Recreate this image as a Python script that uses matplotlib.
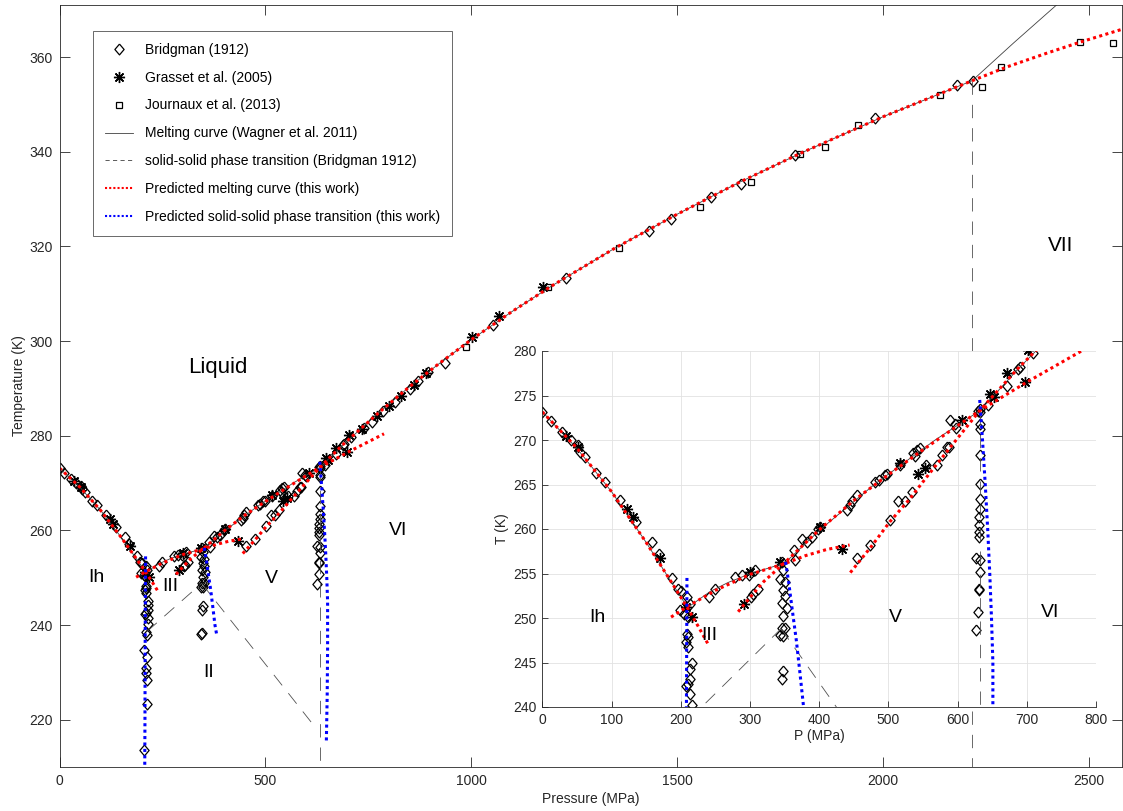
import numpy as np
import matplotlib.pyplot as plt
from matplotlib.lines import Line2D

plt.rcParams['font.family'] = ['Liberation Sans', 'DejaVu Sans']

bridg_P = [0, 12, 28, 41, 52, 55, 62, 78, 90, 112, 136, 158, 169, 187, 196, 201, 199, 205,
           209, 213, 211, 209, 211, 208, 211, 216, 214, 214, 211, 208, 214, 216,
           211, 212, 206, 212, 209, 210, 212, 212, 206,
           241, 250, 278, 288, 298, 307,
           302, 305, 312,
           346, 348, 344, 351, 348, 351, 346, 353, 348, 346, 351, 344, 348,
           348, 346, 345, 343,
           363, 365, 375, 382, 389, 399, 401, 440, 445, 447, 454, 481, 486, 495, 498,
           517, 536, 541, 546, 538, 589, 596, 598,
           454, 474, 502, 514, 524, 534, 555, 570, 577, 584, 587,
           630, 632, 644, 671, 688, 690, 709,
           632, 632, 632, 632, 632, 632, 632, 631, 631, 631, 631, 626, 632, 632, 631,
           631, 630, 626,
           740, 760, 785, 815, 850, 870, 895, 935, 1052, 1230, 1431, 1484, 1582, 1655,
           1786, 1980, 2180, 2218]
bridg_T = [273.2, 272.1, 270.9, 270.0, 269.4, 268.7, 268.1, 266.3, 265.3, 263.3, 260.8,
           258.5, 257.2, 254.5, 253.3, 253.0, 250.9, 250.5,
           252.4, 251.6, 250.1, 248.2, 247.9, 247.3, 246.7, 245.0, 244.3, 243.2, 242.6,
           242.4, 241.5, 240.2,
           238.5, 237.9, 234.8, 233.3, 230.9, 229.9, 228.4, 223.3, 213.5,
           252.4, 253.3, 254.6, 254.8, 254.8, 255.4,
           252.4, 252.7, 253.3,
           256.3, 255.4, 254.4, 254.0, 253.1, 252.5, 251.7, 251.1, 250.2, 248.9, 248.9,
           248.1, 248.0,
           244.1, 243.2, 238.4, 238.0,
           257.6, 256.5, 258.9, 258.5, 259.1, 260.0, 260.2, 262.1, 262.7, 263.2, 263.8,
           265.3, 265.5, 266.1, 266.2, 267.2, 268.5, 268.9, 269.1, 268.2, 272.2, 271.8,
           271.4,
           256.7, 258.2, 261.0, 263.2, 263.2, 264.2, 267.2, 267.2, 268.3, 269.2, 269.2,
           273.3, 273.5, 273.9, 276.1, 278.0, 278.2, 279.8,
           273.1, 271.8, 271.2, 268.3, 265.1, 263.4, 262.3, 261.3, 260.4, 259.7, 259.1,
           256.7, 256.5, 255.2, 253.3, 253.1, 250.7, 248.6,
           281.6, 282.8, 285.2, 287.2, 289.8, 291.5, 293.5, 295.3, 303.4, 313.3, 323.3,
           325.8, 330.4, 333.2, 339.4, 347.2, 354.1, 355.0]

grasset_P = [34, 52, 122, 131, 170, 208, 217, 300, 344, 291, 433, 401, 517, 607, 543, 553,
             647, 652, 671, 702, 697, 735, 770, 800, 830, 860, 890, 1001, 1067, 1174]
grasset_T = [270.5, 269.2, 262.3, 261.3, 256.7, 251.2, 250.1, 255.2, 256.3, 251.6, 257.8,
             260.2, 267.4, 272.2, 266.2, 266.9, 275.2, 274.8, 277.5, 280.1, 276.5, 281.5,
             284.2, 286.2, 288.4, 290.8, 293.2, 300.9, 305.3, 311.4]

journ_P = [988, 1186, 1358, 1555, 1678, 1798, 1858, 1939, 2138, 2239, 2287, 2479, 2559]
journ_T = [298.8, 311.4, 319.7, 328.4, 333.5, 339.5, 341.1, 345.6, 352.0, 353.6, 357.8,
           363.2, 363.0]

# ---- melting curve (Wagner et al. 2011), Ih -> III -> V -> VI ----
wagner_P = [0, 50, 100, 150, 190, 209.9, 243, 268.7, 301.3, 350.1, 402.6, 479.7, 567.6,
            632.4, 687.7, 776.8, 845.4, 918.5, 1000, 1100, 1200, 1350, 1500, 1650, 1800,
            2000, 2216]
wagner_T = [273.16, 269.06, 264.2, 258.5, 253.6, 251.17, 253.0, 254.0, 255.0, 256.16,
            260.0, 265.0, 270.0, 273.31, 278.0, 285.0, 290.0, 295.0, 300.3, 306.3, 311.9,
            319.7, 326.8, 333.5, 339.7, 347.4, 355.0]
wagner7_P = [2216, 2317, 2421, 2460]
wagner7_T = [355.0, 363.0, 371.0, 374.0]

# ---- solid-solid transitions (Bridgman 1912) ----
bss_lines = [([212, 345], [238.6, 248.8]),
             ([345, 620], [248.8, 218.5]),
             ([632.4, 632.4], [273.3, 205]),
             ([2216, 2216], [355.0, 205])]

# ---- predicted melting curves (this work) ----
pred_ih_P = [0, 50, 100, 150, 190, 210, 225, 240]
pred_ih_T = [273.16, 269.1, 264.2, 258.5, 253.6, 251.1, 249.1, 247.0]
pred_iii_P = [186, 210, 250, 300, 350, 380, 411, 444]
pred_iii_T = [250.1, 251.3, 253.1, 254.9, 256.1, 257.0, 257.7, 258.2]
pred_v_P = [283, 300, 320, 350, 400, 450, 500, 550, 600, 632, 700, 788]
pred_v_T = [250.7, 252.3, 254.1, 256.2, 259.9, 263.2, 266.1, 268.9, 271.6, 273.3, 276.5, 280.4]
pred_vi_P = [445, 475, 502, 530, 560, 600, 632, 688, 777, 845, 918, 1000, 1100, 1200, 1350,
             1500, 1650, 1800, 2000, 2216]
pred_vi_T = [255.1, 258.0, 260.8, 263.3, 266.3, 270.2, 273.3, 278.1, 285.0, 290.0, 295.0,
             300.3, 306.3, 311.9, 319.7, 326.8, 333.5, 339.7, 347.4, 355.0]
pred_vii_P = [2216, 2300, 2400, 2480, 2600]
pred_vii_T = [355.0, 357.9, 360.9, 363.2, 366.4]

# ---- predicted solid-solid transitions (this work) ----
pss_ih_P = [209, 208.5, 208, 207.5, 207]
pss_ih_T = [254.5, 245, 235, 220, 210]
pss_v_P = [351.5, 356, 361, 367, 372, 377.5, 382]
pss_v_T = [256.3, 254.0, 251.0, 247.5, 244.0, 240.0, 237.8]
pss_vi_P = [632, 636, 640, 643.5, 646.5, 649, 651, 651, 650, 648]
pss_vi_T = [274.5, 270, 265, 260, 255, 250, 245, 235, 225, 215.5]

# phase labels
main_labels = [("Liquid", 385, 294.5, 16), ("Ih", 89, 250, 14), ("III", 269, 248.1, 14),
               ("II", 361, 229.9, 14), ("V", 514, 249.8, 14), ("VI", 822, 259.9, 14),
               ("VII", 2431, 320.1, 15)]
inset_labels = [("Ih", 80, 250), ("III", 242, 248), ("V", 510, 250), ("VI", 733, 250.6)]

AX_COLOR = '#262626'
RED = '#ff0000'
BLUE = '#0000ff'
# matlab-like diamond, a bit taller than wide
DIAMOND = [(0, 1), (0.85, 0), (0, -1), (-0.85, 0), (0, 1)]
DOT = (0, (1, 1.1))


def draw_diagram(ax):
    ax.plot(bridg_P, bridg_T, ls='none', marker=DIAMOND, ms=7.8, mfc='none', mec='k', mew=0.9)
    ax.plot(grasset_P, grasset_T, ls='none', marker=(8, 2, 0), ms=8, mec='k', mew=1.0)
    ax.plot(journ_P, journ_T, ls='none', marker='s', ms=4.6, mfc='none', mec='k', mew=0.9)
    ax.plot(wagner_P, wagner_T, color='#404040', lw=0.6)
    ax.plot(wagner7_P, wagner7_T, color='#404040', lw=0.6)
    for P, T in bss_lines:
        ax.plot(P, T, color='#505050', lw=0.6, dashes=(16, 12))
    for P, T in [(pred_ih_P, pred_ih_T), (pred_iii_P, pred_iii_T), (pred_v_P, pred_v_T),
                 (pred_vi_P, pred_vi_T), (pred_vii_P, pred_vii_T)]:
        ax.plot(P, T, color=RED, lw=2.2, ls=DOT)
    for P, T in [(pss_ih_P, pss_ih_T), (pss_v_P, pss_v_T), (pss_vi_P, pss_vi_T)]:
        ax.plot(P, T, color=BLUE, lw=2.2, ls=DOT)


fig = plt.figure(figsize=(11.23, 8.11), dpi=100)

# main axes
ax = fig.add_axes([59.5 / 1123, 44 / 811, 1062.5 / 1123, 762 / 811])
draw_diagram(ax)
ax.set_xlim(0, 2580)
ax.set_ylim(210, 371)
ax.set_xticks([0, 500, 1000, 1500, 2000, 2500])
ax.set_yticks(np.arange(220, 361, 20))
ax.tick_params(direction='in', top=True, right=True, length=7, width=0.6,
               colors=AX_COLOR, labelsize=10, pad=5)
for s in ax.spines.values():
    s.set_linewidth(0.6)
    s.set_color(AX_COLOR)
ax.set_xlabel("Pressure (MPa)", fontsize=10, color=AX_COLOR, labelpad=3)
ax.set_ylabel("Temperature (K)", fontsize=10, color=AX_COLOR, labelpad=2)
for txt, p, t, fs in main_labels:
    ax.text(p, t, txt, fontsize=fs, ha='center', va='center', color='k')

handles = [
    Line2D([], [], ls='none', marker=DIAMOND, ms=7.8, mfc='none', mec='k', mew=0.9),
    Line2D([], [], ls='none', marker=(8, 2, 0), ms=8, mec='k', mew=1.0),
    Line2D([], [], ls='none', marker='s', ms=4.6, mfc='none', mec='k', mew=0.9),
    Line2D([], [], color='#404040', lw=0.6),
    Line2D([], [], color='#404040', lw=0.6, dashes=(5, 4)),
    Line2D([], [], color=RED, lw=1.5, ls=(0, (1, 1))),
    Line2D([], [], color=BLUE, lw=1.5, ls=(0, (1, 1))),
]
labels = ["Bridgman (1912)", "Grasset et al. (2005)", "Journaux et al. (2013)",
          "Melting curve (Wagner et al. 2011)", "solid-solid phase transition (Bridgman 1912)",
          "Predicted melting curve (this work)",
          "Predicted solid-solid phase transition (this work)"]
leg = ax.legend(handles, labels, loc='upper left', bbox_to_anchor=(0.0315, 0.966),
                borderaxespad=0, fontsize=10, frameon=True, fancybox=False,
                edgecolor=AX_COLOR, handlelength=2.0, handletextpad=0.9,
                labelspacing=1.0, borderpad=0.85)
leg.get_frame().set_linewidth(0.6)

# inset
ins = fig.add_axes([542.3 / 1123, 104 / 811, 553.7 / 1123, 356 / 811], facecolor='white')
ins.grid(True, color='#e2e2e2', lw=0.6)
ins.set_axisbelow(True)
draw_diagram(ins)
ins.set_xlim(0, 800)
ins.set_ylim(240, 280)
ins.set_xticks(np.arange(0, 801, 100))
ins.set_yticks(np.arange(240, 281, 5))
ins.spines['top'].set_visible(False)
ins.spines['right'].set_visible(False)
for s in ['left', 'bottom']:
    ins.spines[s].set_linewidth(0.6)
    ins.spines[s].set_color(AX_COLOR)
ins.tick_params(direction='in', length=4, width=0.6, colors=AX_COLOR, labelsize=10, pad=4)
ins.set_xlabel("P (MPa)", fontsize=10, color=AX_COLOR, labelpad=2)
ins.set_ylabel("T (K)", fontsize=10, color=AX_COLOR, labelpad=3)
for txt, p, t in inset_labels:
    ins.text(p, t, txt, fontsize=14, ha='center', va='center', color='k')

fig.savefig("out.png", dpi=100)
